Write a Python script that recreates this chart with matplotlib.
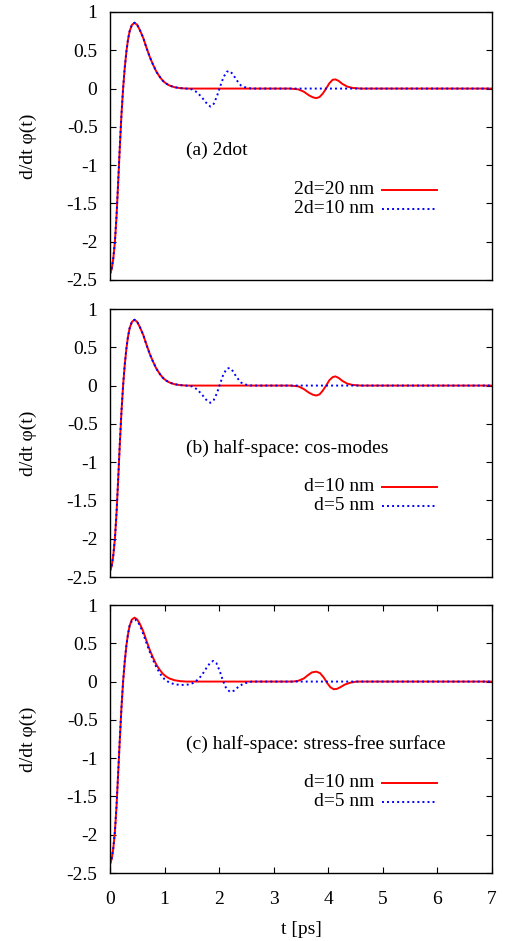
import matplotlib
matplotlib.use("Agg")
import numpy as np
import matplotlib.pyplot as plt

plt.rcParams["font.family"] = ["Liberation Serif", "DejaVu Serif"]
plt.rcParams["axes.unicode_minus"] = False

# pulso principal comum (paineis a e b)
t_pulso = [0, 0.03, 0.06, 0.09, 0.12, 0.15, 0.18, 0.21, 0.24, 0.27, 0.30, 0.33, 0.36,
           0.40, 0.45, 0.50, 0.55, 0.61, 0.67, 0.73, 0.79, 0.85, 0.91, 0.97, 1.03,
           1.09, 1.18, 1.28, 1.40]
y_pulso = [-2.42, -2.36, -2.22, -2.00, -1.66, -1.22, -0.76, -0.34, 0.00, 0.27, 0.48,
           0.64, 0.75, 0.83, 0.86, 0.83, 0.76, 0.66, 0.53, 0.41, 0.31, 0.22, 0.155,
           0.10, 0.065, 0.04, 0.018, 0.006, 0.0]

# (a) cauda vermelha / azul
t_a_red = [3.30, 3.45, 3.55, 3.65, 3.72, 3.78, 3.84, 3.90, 3.96, 4.02, 4.08, 4.13,
           4.19, 4.26, 4.35, 4.45, 4.60, 7.0]
y_a_red = [0, -0.01, -0.04, -0.09, -0.115, -0.125, -0.11, -0.065, 0.0, 0.07, 0.115,
           0.12, 0.10, 0.06, 0.025, 0.008, 0, 0]
t_a_blue = [1.50, 1.60, 1.70, 1.78, 1.84, 1.90, 1.96, 2.02, 2.08, 2.14, 2.19, 2.25,
            2.32, 2.40, 2.50, 2.60, 7.0]
y_a_blue = [-0.01, -0.05, -0.13, -0.20, -0.235, -0.20, -0.10, 0.03, 0.15, 0.22, 0.23,
            0.19, 0.11, 0.04, 0.01, 0, 0]

# (b)
t_b_red = [3.30, 3.45, 3.55, 3.65, 3.72, 3.78, 3.84, 3.90, 3.96, 4.02, 4.08, 4.13,
           4.19, 4.26, 4.35, 4.45, 4.60, 7.0]
y_b_red = [0, -0.01, -0.045, -0.095, -0.12, -0.13, -0.115, -0.065, 0.0, 0.07, 0.11,
           0.12, 0.10, 0.06, 0.025, 0.008, 0, 0]
t_b_blue = [1.50, 1.60, 1.70, 1.78, 1.84, 1.90, 1.96, 2.02, 2.08, 2.14, 2.19, 2.25,
            2.32, 2.40, 2.50, 2.60, 7.0]
y_b_blue = [-0.01, -0.05, -0.13, -0.20, -0.225, -0.19, -0.10, 0.03, 0.15, 0.22, 0.23,
            0.19, 0.11, 0.04, 0.01, 0, 0]

# (c) superficie livre de tensao
t_c_pulso = [0, 0.03, 0.06, 0.09, 0.12, 0.15, 0.18, 0.21, 0.24, 0.27, 0.30, 0.33, 0.36]
y_c_pulso = [-2.38, -2.32, -2.18, -1.96, -1.62, -1.19, -0.75, -0.34, 0.0, 0.26, 0.47,
             0.62, 0.73]
t_c_red = [0.40, 0.45, 0.50, 0.55, 0.61, 0.67, 0.73, 0.79, 0.85, 0.91, 0.97, 1.03,
           1.09, 1.18, 1.28, 1.40, 3.35, 3.45, 3.55, 3.63, 3.70, 3.78, 3.85, 3.92,
           3.98, 4.04, 4.10, 4.16, 4.23, 4.30, 4.40, 4.52, 7.0]
y_c_red = [0.81, 0.835, 0.81, 0.75, 0.655, 0.53, 0.41, 0.31, 0.22, 0.155, 0.10, 0.065,
           0.04, 0.018, 0.006, 0.0, 0, 0.01, 0.04, 0.085, 0.12, 0.13, 0.11, 0.05,
           -0.02, -0.075, -0.10, -0.095, -0.07, -0.04, -0.015, 0, 0]
t_c_blue = [0.40, 0.46, 0.52, 0.58, 0.64, 0.70, 0.76, 0.82, 0.88, 0.94, 1.00, 1.08,
            1.18, 1.30, 1.42, 1.52, 1.60, 1.68, 1.76, 1.83, 1.89, 1.95, 2.01, 2.07,
            2.13, 2.20, 2.27, 2.35, 2.45, 2.60, 7.0]
y_c_blue = [0.79, 0.81, 0.77, 0.68, 0.56, 0.44, 0.33, 0.23, 0.15, 0.08, 0.03, -0.01,
            -0.035, -0.045, -0.04, -0.02, 0.02, 0.08, 0.17, 0.24, 0.27, 0.24, 0.14,
            0.01, -0.09, -0.135, -0.12, -0.07, -0.025, 0, 0]

paineis = [
    dict(rotulo="(a) 2dot", leg=["2d=20 nm", "2d=10 nm"],
         red=(t_pulso + t_a_red, y_pulso + y_a_red),
         blue=(t_pulso + t_a_blue, y_pulso + y_a_blue)),
    dict(rotulo="(b) half-space: cos-modes", leg=["d=10 nm", "d=5 nm"],
         red=(t_pulso + t_b_red, y_pulso + y_b_red),
         blue=(t_pulso + t_b_blue, y_pulso + y_b_blue)),
    dict(rotulo="(c) half-space: stress-free surface", leg=["d=10 nm", "d=5 nm"],
         red=(t_c_pulso + t_c_red, y_c_pulso + y_c_red),
         blue=(t_c_pulso + t_c_blue, y_c_pulso + y_c_blue)),
]

y_ticks = [-2.5, -2, -1.5, -1, -0.5, 0, 0.5, 1]
y_tick_labels = ["-2.5", "-2", "-1.5", "-1", "-0.5", "0", "0.5", "1"]
x_ticks = [0, 1, 2, 3, 4, 5, 6, 7]

W, H = 505, 941
fig = plt.figure(figsize=(W / 100, H / 100), dpi=100)
# (topo, base) em pixels
caixas = [(12, 280), (309, 577), (605, 873)]
esq, dir_ = 110, 492
fs = 14

for i, (p, (topo, base)) in enumerate(zip(paineis, caixas)):
    ax = fig.add_axes([esq / W, 1 - base / H, (dir_ - esq) / W, (base - topo) / H])
    ax.plot(*p["red"], color="#ff0000", lw=1.4, solid_joinstyle="round")
    ax.plot(*p["blue"], color="#0000ff", lw=1.4, linestyle=(0, (1, 1.6)))
    ax.set_xlim(0, 7)
    ax.set_ylim(-2.5, 1)
    ax.set_yticks(y_ticks)
    ax.set_yticklabels(y_tick_labels, fontsize=fs)
    ax.tick_params(axis="y", direction="in", left=True, right=True, length=4,
                   width=0.8, pad=9)
    if i < 2:
        ax.set_xticks([])
    else:
        ax.set_xticks(x_ticks)
        ax.set_xticklabels([str(v) for v in x_ticks], fontsize=fs)
        ax.tick_params(axis="x", direction="in", top=True, bottom=True, length=4,
                       width=0.8, pad=13)
        ax.set_xlabel("t [ps]", fontsize=fs, labelpad=9)
    for s in ax.spines.values():
        s.set_linewidth(1.0)
    ax.set_ylabel("d/dt φ(t)", fontsize=fs, labelpad=21)

    ax.text(1.39, -0.81, p["rotulo"], fontsize=fs, ha="left", va="center")
    for k, (nome, cor, ls) in enumerate(zip(p["leg"], ["#ff0000", "#0000ff"],
                                           ["-", (0, (1, 1.6))])):
        yy = -1.32 - 0.25 * k
        ax.text(4.85, yy, nome, fontsize=fs, ha="right", va="center")
        ax.plot([4.99, 5.99], [yy, yy], color=cor, lw=1.4, linestyle=ls)

fig.savefig("out.png", dpi=100)
